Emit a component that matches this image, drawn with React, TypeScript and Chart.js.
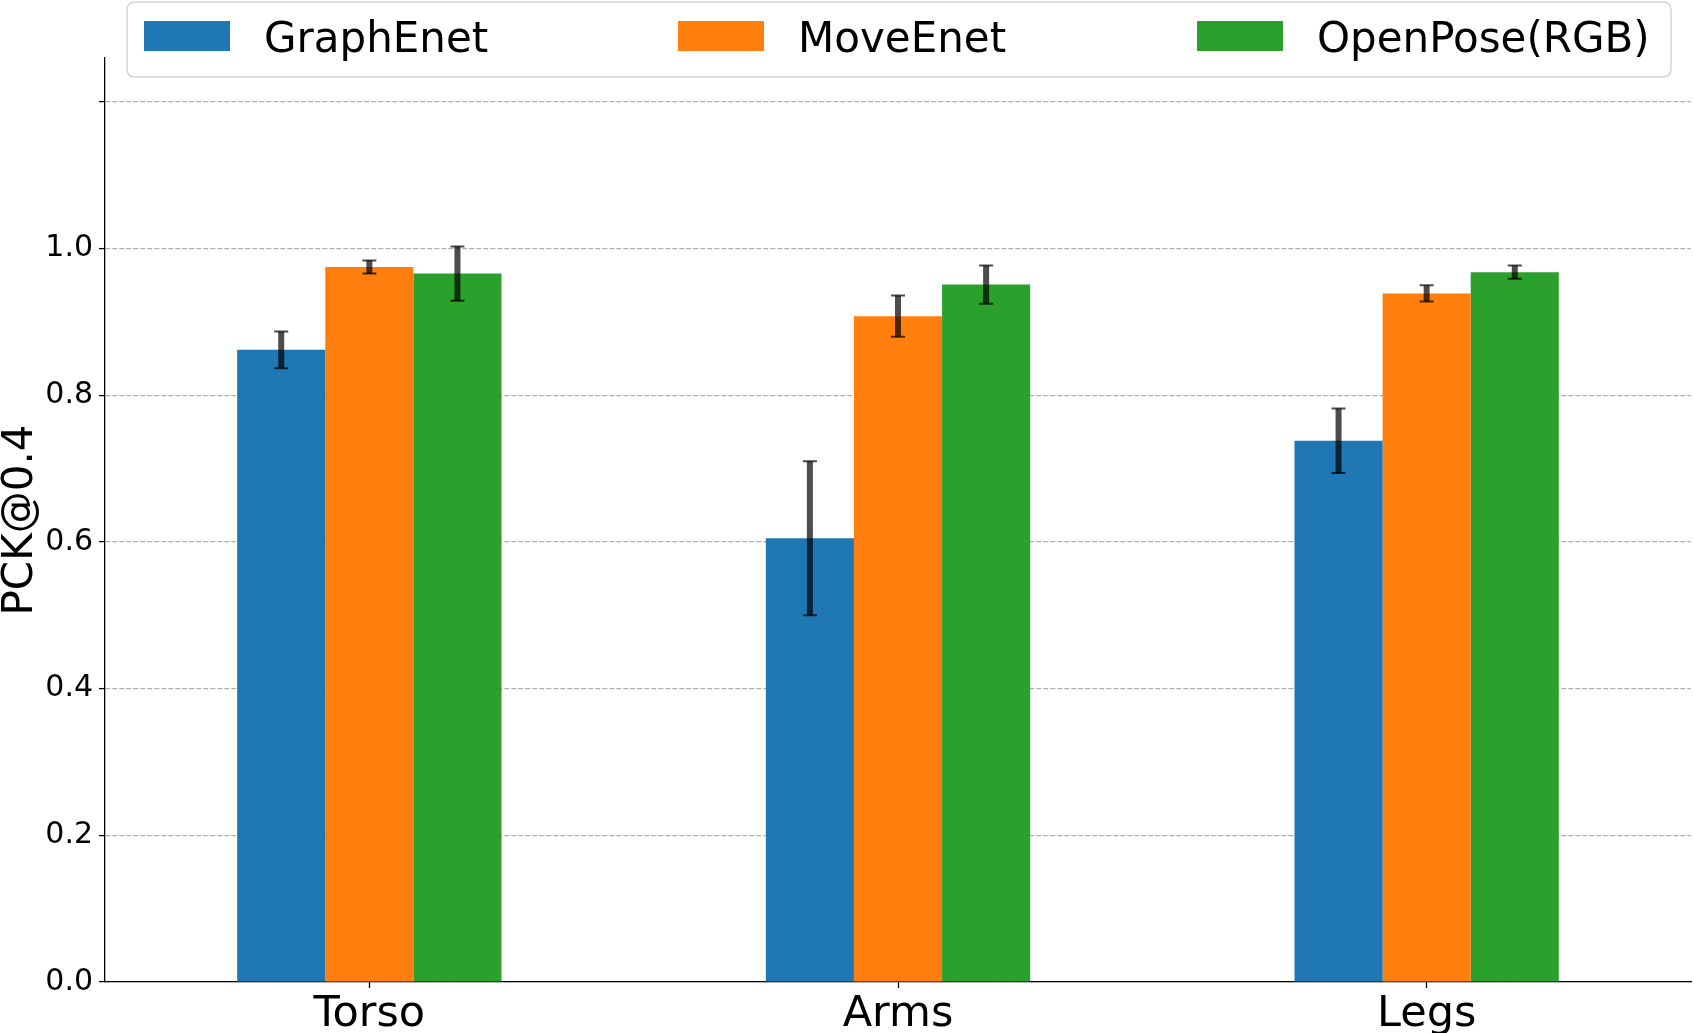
import React, { useEffect, useRef } from "react";
import { Chart, registerables } from "chart.js";

Chart.register(...registerables);

const categories = ["Torso", "Arms", "Legs"];
const seriesNames = ["GraphEnet", "MoveEnet", "OpenPose(RGB)"];
const seriesColors = ["#1f77b4", "#ff7f0e", "#2ca02c"];
const graphEnetValues = [0.862, 0.605, 0.738];
const graphEnetErrors = [0.025, 0.105, 0.044];
const moveEnetValues = [0.975, 0.908, 0.939];
const moveEnetErrors = [0.009, 0.028, 0.011];
const openPoseValues = [0.966, 0.951, 0.968];
const openPoseErrors = [0.037, 0.026, 0.009];
const yTickValues = [0, 0.2, 0.4, 0.6, 0.8, 1.0, 1.2];
const yTickLabels = ["0.0", "0.2", "0.4", "0.6", "0.8", "1.0", ""];
const yMin = 0;
const yMax = 1.26;
const yAxisTitle = "PCK@0.4";

const FONT = "'DejaVu Sans', sans-serif";

const errorBarPlugin = {
  id: "errorBars",
  afterDatasetsDraw(chart: any) {
    const ctx = chart.ctx;
    const yScale = chart.scales.y;
    chart.data.datasets.forEach((ds: any, i: number) => {
      const meta = chart.getDatasetMeta(i);
      if (!ds.errors) return;
      meta.data.forEach((bar: any, j: number) => {
        const v = ds.data[j];
        const e = ds.errors[j];
        const x = bar.x;
        const yTop = yScale.getPixelForValue(v + e);
        const yBot = yScale.getPixelForValue(v - e);
        ctx.save();
        ctx.strokeStyle = "rgba(0,0,0,0.7)";
        ctx.lineWidth = 6;
        ctx.beginPath();
        ctx.moveTo(x, yTop);
        ctx.lineTo(x, yBot);
        ctx.stroke();
        ctx.lineWidth = 2;
        const cw = 7;
        ctx.beginPath();
        ctx.moveTo(x - cw, yTop);
        ctx.lineTo(x + cw, yTop);
        ctx.moveTo(x - cw, yBot);
        ctx.lineTo(x + cw, yBot);
        ctx.stroke();
        ctx.restore();
      });
    });
  },
};

const legendPlugin = {
  id: "customLegend",
  afterDraw(chart: any) {
    const ctx = chart.ctx;
    const left = 127;
    const top = 2;
    const right = 1671;
    const bottom = 77;
    const r = 8;
    ctx.save();
    ctx.beginPath();
    ctx.moveTo(left + r, top);
    ctx.lineTo(right - r, top);
    ctx.quadraticCurveTo(right, top, right, top + r);
    ctx.lineTo(right, bottom - r);
    ctx.quadraticCurveTo(right, bottom, right - r, bottom);
    ctx.lineTo(left + r, bottom);
    ctx.quadraticCurveTo(left, bottom, left, bottom - r);
    ctx.lineTo(left, top + r);
    ctx.quadraticCurveTo(left, top, left + r, top);
    ctx.closePath();
    ctx.fillStyle = "rgba(255,255,255,0.8)";
    ctx.fill();
    ctx.strokeStyle = "#d5d5d5";
    ctx.lineWidth = 1.5;
    ctx.stroke();

    const patchX = [144, 678, 1197];
    const textX = [264, 798, 1317];
    ctx.font = `42px ${FONT}`;
    ctx.textBaseline = "alphabetic";
    ctx.textAlign = "left";
    chart.data.datasets.forEach((ds: any, i: number) => {
      ctx.fillStyle = ds.backgroundColor;
      ctx.fillRect(patchX[i], 21, 86, 30);
      ctx.fillStyle = "#000";
      ctx.fillText(ds.label, textX[i], 51.5);
    });
    ctx.restore();
  },
};

export default function App() {
  const canvasRef = useRef<HTMLCanvasElement | null>(null);

  useEffect(() => {
    document.body.style.margin = "0";
    document.body.style.overflow = "hidden";
    const canvas = canvasRef.current;
    if (!canvas) return;
    const valuesList = [graphEnetValues, moveEnetValues, openPoseValues];
    const errorsList = [graphEnetErrors, moveEnetErrors, openPoseErrors];
    const chart = new Chart(canvas, {
      type: "bar",
      data: {
        labels: categories,
        datasets: seriesNames.map((name, i) => ({
          label: name,
          data: valuesList[i],
          errors: errorsList[i],
          backgroundColor: seriesColors[i],
          borderWidth: 0,
          categoryPercentage: 0.5,
          barPercentage: 1.0,
        })) as any,
      },
      options: {
        animation: false,
        responsive: false,
        devicePixelRatio: 1,
        layout: { padding: { top: 58, right: 3, left: 0, bottom: 0 } },
        plugins: {
          legend: { display: false },
          tooltip: { enabled: false },
        },
        scales: {
          x: {
            z: 1,
            grid: {
              offset: false,
              drawOnChartArea: false,
              drawTicks: true,
              tickLength: 6,
              tickColor: "#000",
              tickWidth: 1.3,
            },
            border: { display: true, color: "#000", width: 1.3 },
            ticks: {
              color: "#000",
              font: { family: FONT, size: 43 },
              padding: 1,
            },
            afterFit(scale: any) {
              scale.height = 51;
            },
          },
          y: {
            z: 1,
            min: yMin,
            max: yMax,
            afterBuildTicks(scale: any) {
              scale.ticks = yTickValues.map((v) => ({ value: v }));
            },
            grid: {
              color: "#b0b0b0",
              lineWidth: 1.2,
              drawTicks: true,
              tickLength: 6,
              tickColor: "#000",
              tickWidth: 1.3,
              tickBorderDash: [],
            } as any,
            border: { display: true, color: "#000", width: 1.3, dash: [5, 2] },
            ticks: {
              color: "#000",
              font: { family: FONT, size: 30 },
              padding: 6,
              callback: (value: any) => {
                const idx = yTickValues.findIndex((t) => Math.abs(t - Number(value)) < 1e-9);
                return idx >= 0 ? yTickLabels[idx] : "";
              },
            },
            title: {
              display: true,
              text: yAxisTitle,
              color: "#000",
              font: { family: FONT, size: 42, lineHeight: 1 },
              padding: 0,
            },
            afterFit(scale: any) {
              scale.width = 105;
            },
          },
        },
      },
      plugins: [errorBarPlugin, legendPlugin],
    });
    return () => chart.destroy();
  }, []);

  return (
    <div style={{ position: "absolute", left: 0, top: 0, width: 1694, height: 1033 }}>
      <canvas ref={canvasRef} width={1694} height={1033} style={{ width: 1694, height: 1033 }} />
    </div>
  );
}
